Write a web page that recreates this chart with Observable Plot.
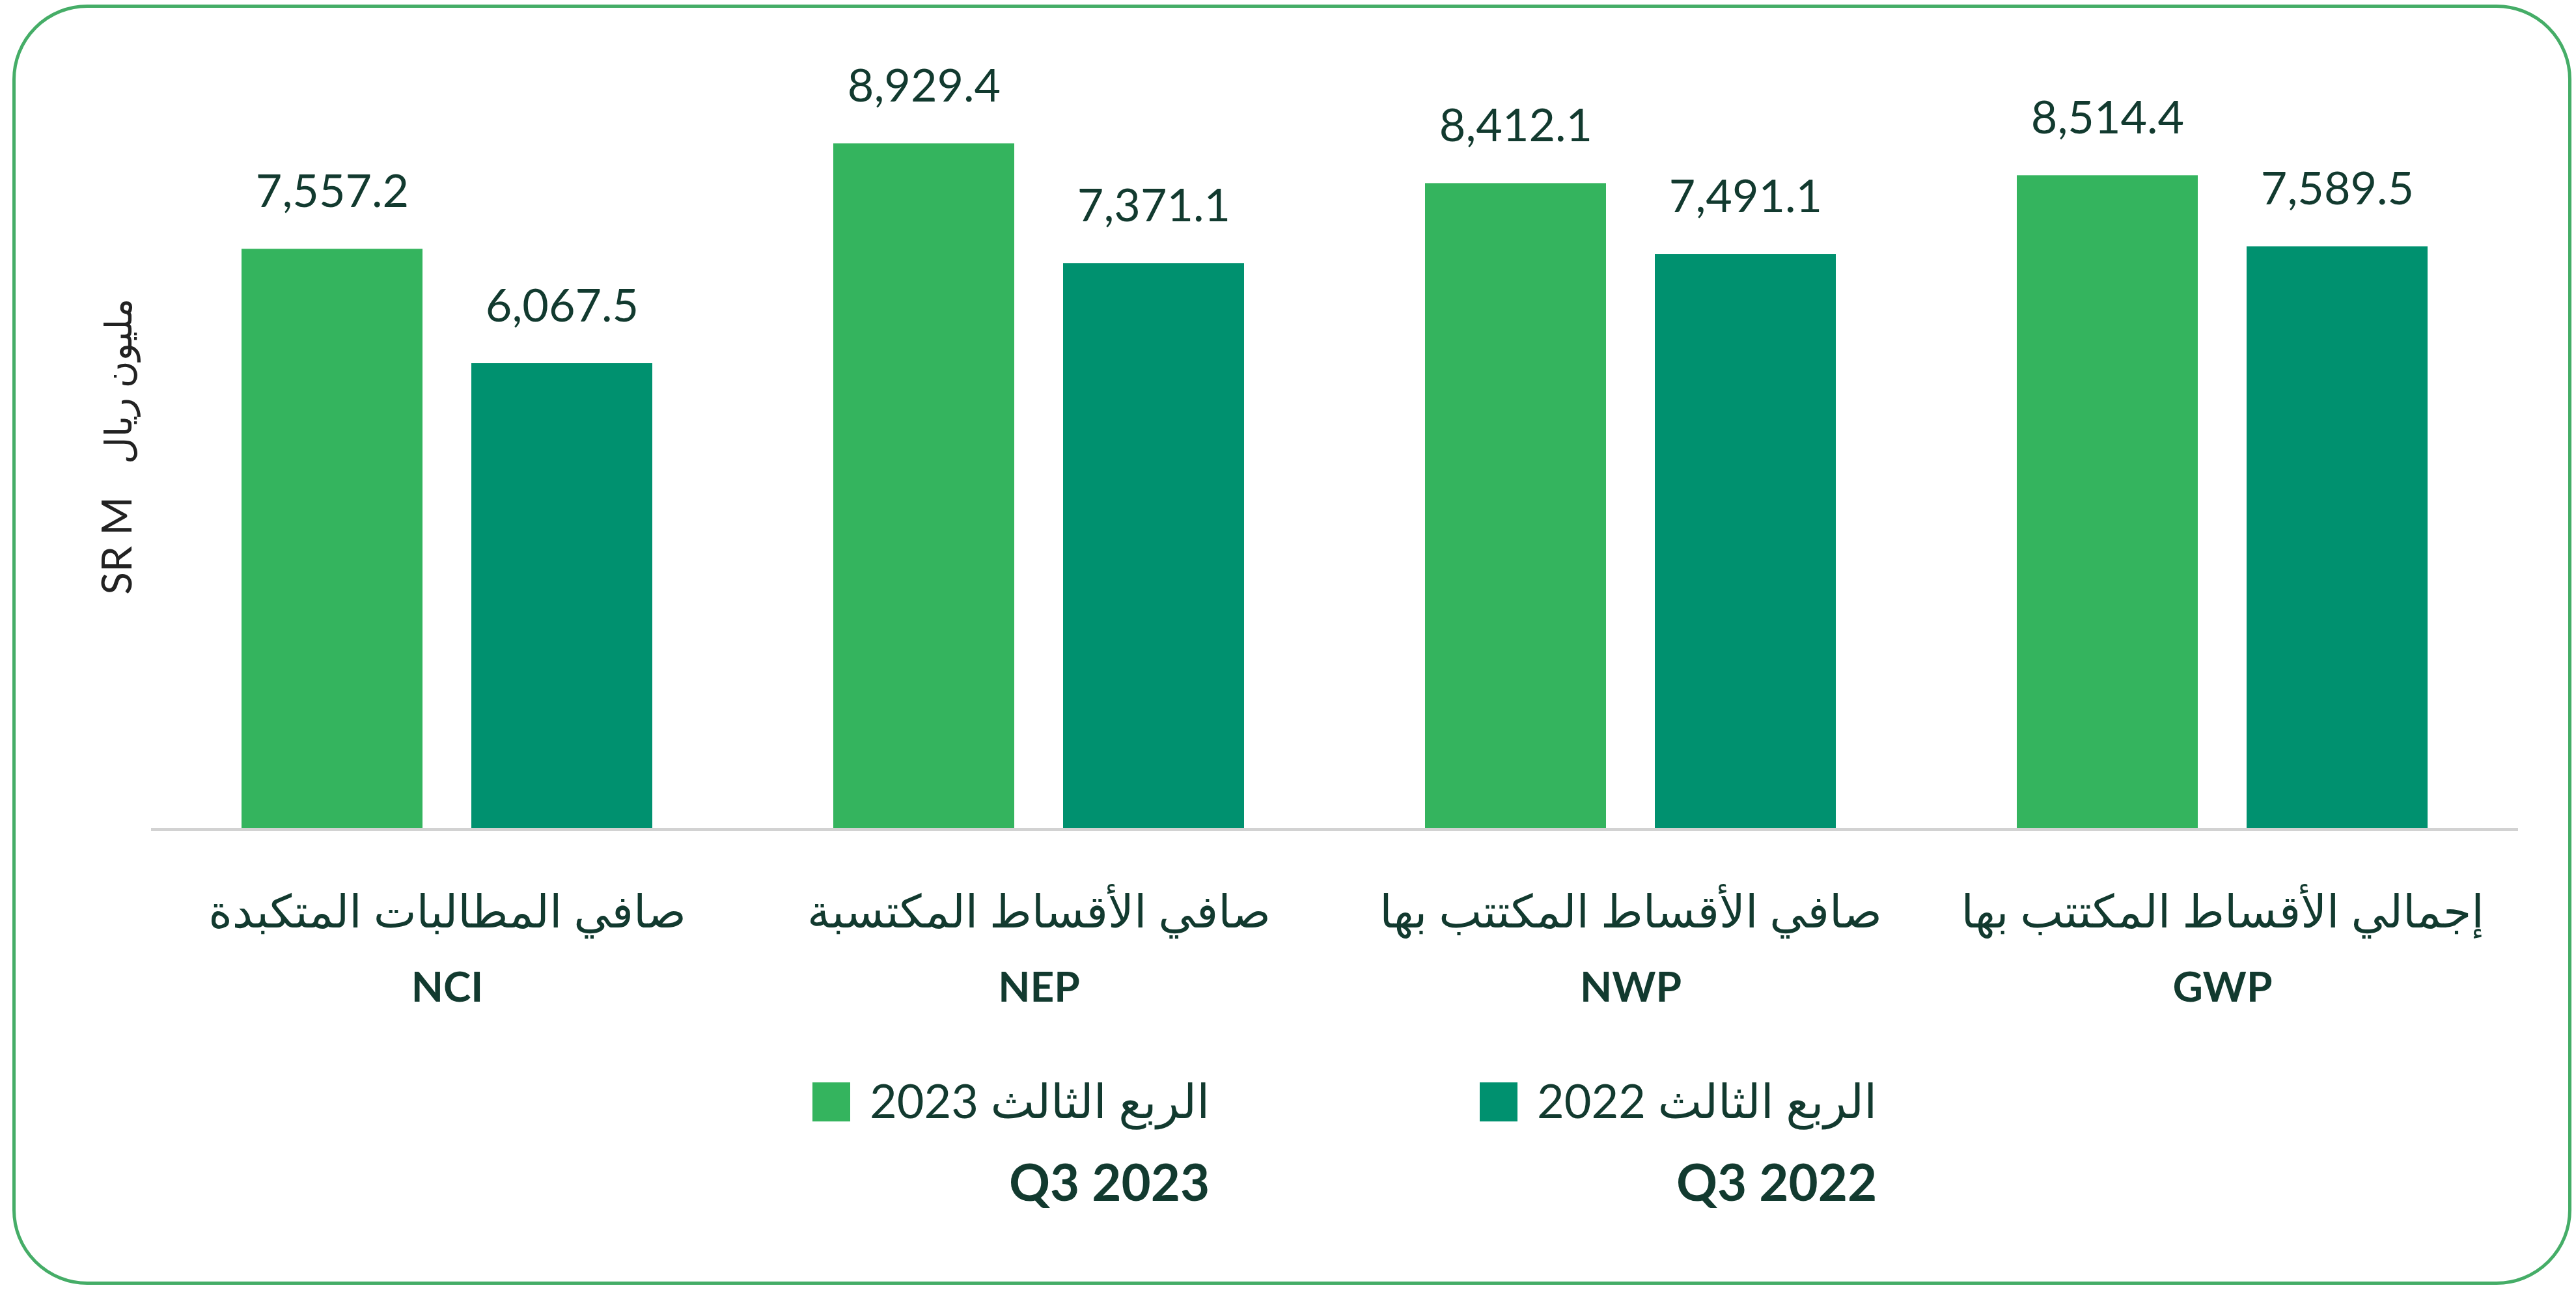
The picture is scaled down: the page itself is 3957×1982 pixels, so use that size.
<!DOCTYPE html>
<html>
<head>
<meta charset="utf-8">
<script src="https://cdn.jsdelivr.net/npm/d3@7"></script>
<script src="https://cdn.jsdelivr.net/npm/@observablehq/plot@0.6"></script>
<style>
  html, body { margin: 0; padding: 0; background: #ffffff; }
  #wrap { position: relative; width: 3957px; height: 1982px; overflow: hidden; background: #fff;
          font-family: Lato, "DejaVu Sans", sans-serif; color: #123a2f; }
  #frame { position: absolute; left: 19px; top: 7px; width: 3921px; height: 1957px;
           border: 5px solid #45ad67; border-radius: 115px; box-sizing: content-box; }
  #chart { position: absolute; left: 0; top: 0; }
  #ylabel { position: absolute; left: 178px; top: 686px; transform: translate(-50%, -50%) rotate(-90deg);
            white-space: nowrap; color: #222; font-family: Lato, "DejaVu Sans", sans-serif; line-height: 1; }
  #ylabel .en { font-size: 64px; }
  #ylabel .ar2 { font-size: 57px; margin-left: 50px; }
  .item { position: absolute; top: 1660px; display: flex; align-items: flex-start; }
  .sw { width: 58px; height: 60px; margin-right: 30px; margin-top: 3px; }
  .txt { display: flex; flex-direction: column; align-items: flex-end; }
  .ar { font-size: 72px; line-height: 60px; direction: rtl; white-space: nowrap; }
  .q { font-size: 78px; line-height: 78px; font-weight: bold; margin-top: 56px; white-space: nowrap; }
</style>
</head>
<body>
<div id="wrap">
  <div id="frame"></div>
  <div id="chart"></div>
  <div id="ylabel"></div>
  <div id="legend"></div>
</div>
<script>
// ---- data ----
const categories = ["NCI", "NEP", "NWP", "GWP"];
const categoriesAr = [
  "صافي المطالبات المتكبدة",
  "صافي الأقساط المكتسبة",
  "صافي الأقساط المكتتب بها",
  "إجمالي الأقساط المكتتب بها"
];
const seriesEn = ["Q3 2023", "Q3 2022"];
const seriesAr = ["الربع الثالث 2023", "الربع الثالث 2022"];
const values2023 = [7557.2, 8929.4, 8412.1, 8514.4];
const values2022 = [6067.5, 7371.1, 7491.1, 7589.5];
const seriesColors = ["#34b45e", "#00916f"];
const yLabelEn = "SR M";
const yLabelAr = "مليون ريال";

// ---- build ----
const rows = categories.map((c, i) => ({ cat: c, ar: categoriesAr[i], v23: values2023[i], v22: values2022[i] }));
const fmt = d3.format(",.1f");
const textColor = "#123a2f";
const font = "Lato, 'DejaVu Sans', sans-serif";

const chart = Plot.plot({
  width: 3957,
  height: 1600,
  marginLeft: 232,
  marginRight: 89,
  marginTop: 94,
  marginBottom: 326,
  x: { domain: categories, padding: 0, axis: null },
  y: { domain: [0, 10000], axis: null },
  style: { fontFamily: font, background: "transparent", overflow: "visible", color: textColor },
  marks: [
    Plot.barY(rows, { x: "cat", y: "v23", fill: seriesColors[0], insetLeft: 139, insetRight: 492 }),
    Plot.barY(rows, { x: "cat", y: "v22", fill: seriesColors[1], insetLeft: 492, insetRight: 139 }),
    Plot.ruleY([0], { stroke: "#d2d2d2", strokeWidth: 5 }),
    Plot.text(rows, { x: "cat", y: "v23", text: d => fmt(d.v23), dx: -176.5, dy: -87, fontSize: 70, fill: textColor }),
    Plot.text(rows, { x: "cat", y: "v22", text: d => fmt(d.v22), dx: 176.5, dy: -87, fontSize: 70, fill: textColor }),
    Plot.text(rows, { x: "cat", y: () => 0, text: "ar", dy: 128, fontSize: 70, fill: textColor }),
    Plot.text(rows, { x: "cat", y: () => 0, text: "cat", dy: 244, fontSize: 64, fontWeight: "bold", fill: textColor })
  ]
});
document.getElementById("chart").appendChild(chart);

// ---- y label ----
const yl = document.getElementById("ylabel");
const ylEn = document.createElement("span");
ylEn.className = "en";
ylEn.textContent = yLabelEn;
const ylAr = document.createElement("span");
ylAr.className = "ar2";
ylAr.textContent = yLabelAr;
yl.appendChild(ylEn);
yl.appendChild(ylAr);

// ---- legend ----
const legend = document.getElementById("legend");
const itemLefts = [1248, 2273];
seriesEn.forEach((s, i) => {
  const item = document.createElement("div");
  item.className = "item";
  item.style.left = itemLefts[i] + "px";
  const sw = document.createElement("div");
  sw.className = "sw";
  sw.style.background = seriesColors[i];
  const txt = document.createElement("div");
  txt.className = "txt";
  const ar = document.createElement("div");
  ar.className = "ar";
  ar.textContent = seriesAr[i];
  const en = document.createElement("div");
  en.className = "q";
  en.textContent = s;
  txt.appendChild(ar);
  txt.appendChild(en);
  item.appendChild(sw);
  item.appendChild(txt);
  legend.appendChild(item);
});
</script>
</body>
</html>
